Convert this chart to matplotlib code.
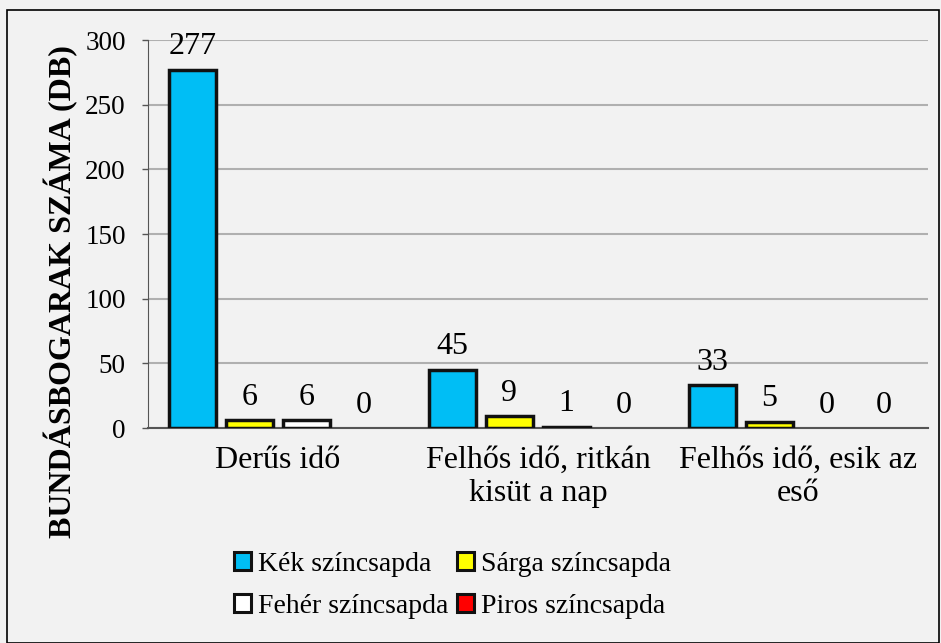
import matplotlib
matplotlib.use("Agg")
import matplotlib.pyplot as plt
import numpy as np
from matplotlib.patches import Rectangle

categories = ["Derűs idő", "Felhős idő, ritkán\nkisüt a nap", "Felhős idő, esik az\neső"]
series_names = ["Kék színcsapda", "Sárga színcsapda", "Fehér színcsapda", "Piros színcsapda"]
kek = [277, 45, 33]
sarga = [6, 9, 5]
feher = [6, 1, 0]
piros = [0, 0, 0]
series = [kek, sarga, feher, piros]
colors = ["#00bef5", "#ffff00", "#ffffff", "#ff0000"]
yticks = [0, 50, 100, 150, 200, 250, 300]

plt.rcParams['font.family'] = ['Liberation Serif', 'DejaVu Serif']

fig = plt.figure(figsize=(9.41, 6.43), dpi=100, facecolor="#f2f2f2")
ax = fig.add_axes([148/941, 1-428/643, (928-148)/941, (428-40)/643])
ax.set_facecolor("#f2f2f2")

x = np.arange(len(categories))
width = 0.18
step = 0.22
offsets = (np.arange(4) - 1.5) * step
handles = []
for i, (vals, col, name) in enumerate(zip(series, colors, series_names)):
    lws = [2.5 if v > 0 else 0 for v in vals]
    ax.bar(x + offsets[i], vals, width, color=col, edgecolor="#111111",
           linewidth=lws, zorder=3)
    h = Rectangle((0, 0), 1, 1, facecolor=col, edgecolor="#111111", linewidth=2.2, label=name)
    handles.append(h)
    for xi, v in zip(x + offsets[i], vals):
        ax.annotate(str(v), (xi, v), xytext=(0, 6), textcoords="offset points",
                    ha="center", va="bottom", fontsize=23, color="black", zorder=4)

ax.set_xlim(-0.5, 2.5)
ax.set_ylim(0, 300)
ax.set_yticks(yticks)
ax.set_yticklabels([str(t) for t in yticks], fontsize=19.5)
ax.set_xticks(x)
ax.set_xticklabels(categories, fontsize=23, linespacing=1.17)
ax.tick_params(axis="x", length=0, pad=13)
ax.tick_params(axis="y", length=4, width=1, color="#555555", pad=12)
ax.grid(axis="y", color="#b0b0b0", linewidth=1.5, zorder=0)
for s in ["top", "right"]:
    ax.spines[s].set_visible(False)
ax.spines["left"].set_color("#555555")
ax.spines["bottom"].set_color("#555555")
ax.spines["bottom"].set_linewidth(1.5)

fig.text(61/941, 1-292/643, "BUNDÁSBOGARAK SZÁMA (DB)", rotation=90, fontsize=23,
         fontweight="bold", ha="center", va="center")

# row-wise legend order: Kék, Sárga / Fehér, Piros
order = [0, 2, 1, 3]
leg = fig.legend([handles[k] for k in order], [series_names[k] for k in order],
                 loc="upper left", bbox_to_anchor=(234/941, 1-552/643), ncol=2,
                 frameon=False, fontsize=20, handlelength=0.62, handleheight=0.62,
                 handletextpad=0.25, columnspacing=0.3, labelspacing=0.6, borderaxespad=0,
                 borderpad=0)

fig.patches.append(Rectangle((7/941, 0), (939-7)/941, 1-10/643, transform=fig.transFigure,
                             fill=False, edgecolor="black", linewidth=1.2))

fig.savefig("out.png", dpi=100, facecolor=fig.get_facecolor())
